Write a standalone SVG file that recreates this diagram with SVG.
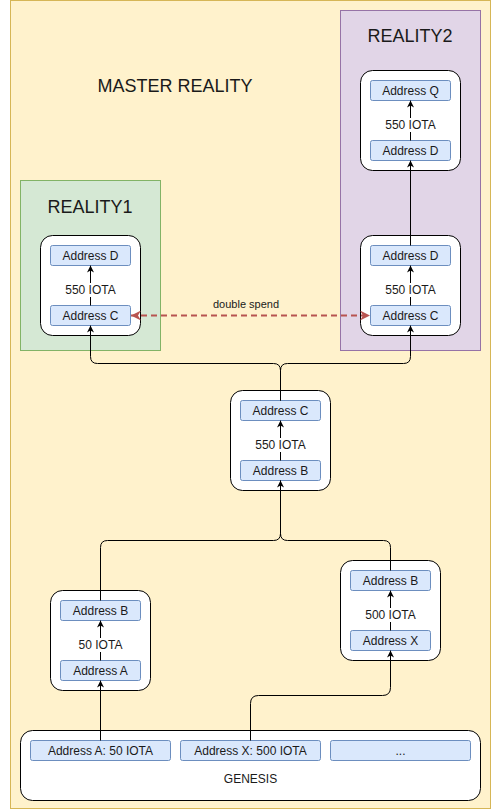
<svg xmlns="http://www.w3.org/2000/svg" width="501" height="811" viewBox="0 0 501 811">
<defs>
<marker id="arr" viewBox="0 0 10 10" refX="10" refY="5" markerWidth="7" markerHeight="8" markerUnits="userSpaceOnUse" orient="auto">
<path d="M0,0 L10,5 L0,10 L3,5 Z" fill="#000"/>
</marker>
<marker id="arrR" viewBox="0 0 10 10" refX="10" refY="5" markerWidth="10" markerHeight="10" markerUnits="userSpaceOnUse" orient="auto-start-reverse">
<path d="M0,0 L10,5 L0,10 L3,5 Z" fill="#b85450"/>
</marker>
<style>
text{font-family:"Liberation Sans",Arial,sans-serif;fill:#1a1a1a;text-anchor:middle;dominant-baseline:central}
.title{font-size:18px}
.lbl{font-size:12px}
.node{fill:#fff;stroke:#000;stroke-width:1}
.addr{fill:#dae8fc;stroke:#6c8ebf;stroke-width:1}
.conn{fill:none;stroke:#000;stroke-width:1}
.tag{fill:#fff}
</style>
</defs>
<g id="master-reality">
<rect x="10.5" y="0.5" width="480" height="808" fill="#fff2cc" stroke="#d6b656"/>
<text class="title" x="175" y="86">MASTER REALITY</text>
</g>
<g id="reality1">
<rect x="20.5" y="180.5" width="140" height="170" fill="#d5e8d4" stroke="#82b366"/>
<text class="title" x="90" y="207">REALITY1</text>
</g>
<g id="reality2">
<rect x="340.5" y="10.5" width="140" height="340" fill="#e1d5e7" stroke="#9673a6"/>
<text class="title" x="410" y="36">REALITY2</text>
</g>
<g id="node-r1">
<rect class="node" x="40.5" y="235.5" width="100" height="100" rx="12"/>
<rect class="addr" x="50.5" y="245.5" width="80" height="20" rx="2"/>
<text class="lbl" x="90.5" y="256">Address D</text>
<rect class="addr" x="50.5" y="305.5" width="80" height="20" rx="2"/>
<text class="lbl" x="90.5" y="316">Address C</text>
</g>
<g id="node-r2a">
<rect class="node" x="360.5" y="70.5" width="100" height="100" rx="12"/>
<rect class="addr" x="370.5" y="80.5" width="80" height="20" rx="2"/>
<text class="lbl" x="410.5" y="91">Address Q</text>
<rect class="addr" x="370.5" y="140.5" width="80" height="20" rx="2"/>
<text class="lbl" x="410.5" y="151">Address D</text>
</g>
<g id="node-r2b">
<rect class="node" x="360.5" y="235.5" width="100" height="100" rx="12"/>
<rect class="addr" x="370.5" y="245.5" width="80" height="20" rx="2"/>
<text class="lbl" x="410.5" y="256">Address D</text>
<rect class="addr" x="370.5" y="305.5" width="80" height="20" rx="2"/>
<text class="lbl" x="410.5" y="316">Address C</text>
</g>
<g id="node-mid">
<rect class="node" x="230.5" y="390.5" width="100" height="100" rx="12"/>
<rect class="addr" x="240.5" y="400.5" width="80" height="20" rx="2"/>
<text class="lbl" x="280.5" y="411">Address C</text>
<rect class="addr" x="240.5" y="460.5" width="80" height="20" rx="2"/>
<text class="lbl" x="280.5" y="471">Address B</text>
</g>
<g id="node-left">
<rect class="node" x="50.5" y="590.5" width="100" height="100" rx="12"/>
<rect class="addr" x="60.5" y="600.5" width="80" height="20" rx="2"/>
<text class="lbl" x="100.5" y="611">Address B</text>
<rect class="addr" x="60.5" y="660.5" width="80" height="20" rx="2"/>
<text class="lbl" x="100.5" y="671">Address A</text>
</g>
<g id="node-right">
<rect class="node" x="340.5" y="560.5" width="100" height="100" rx="12"/>
<rect class="addr" x="350.5" y="570.5" width="80" height="20" rx="2"/>
<text class="lbl" x="390.5" y="581">Address B</text>
<rect class="addr" x="350.5" y="630.5" width="80" height="20" rx="2"/>
<text class="lbl" x="390.5" y="641">Address X</text>
</g>
<g id="genesis">
<rect class="node" x="20.5" y="730.5" width="460" height="70" rx="12"/>
<rect class="addr" x="30.5" y="740.5" width="140" height="20" rx="2"/>
<text class="lbl" x="100.5" y="751">Address A: 50 IOTA</text>
<rect class="addr" x="180.5" y="740.5" width="140" height="20" rx="2"/>
<text class="lbl" x="250.5" y="751">Address X: 500 IOTA</text>
<rect class="addr" x="330.5" y="740.5" width="140" height="20" rx="2"/>
<text class="lbl" x="400.5" y="751">...</text>
<text class="lbl" x="250.5" y="779">GENESIS</text>
</g>
<g id="connectors">
<path class="conn" d="M90.5 305.5 L90.5 265.5" marker-end="url(#arr)"/>
<rect class="tag" x="62" y="283" width="57" height="14"/>
<text class="lbl" x="90.5" y="290">550 IOTA</text>
<path class="conn" d="M410.5 140.5 L410.5 100.5" marker-end="url(#arr)"/>
<rect class="tag" x="382" y="118" width="57" height="14"/>
<text class="lbl" x="410.5" y="125">550 IOTA</text>
<path class="conn" d="M410.5 305.5 L410.5 265.5" marker-end="url(#arr)"/>
<rect class="tag" x="382" y="283" width="57" height="14"/>
<text class="lbl" x="410.5" y="290">550 IOTA</text>
<path class="conn" d="M280.5 460.5 L280.5 420.5" marker-end="url(#arr)"/>
<rect class="tag" x="252" y="438" width="57" height="14"/>
<text class="lbl" x="280.5" y="445">550 IOTA</text>
<path class="conn" d="M100.5 660.5 L100.5 620.5" marker-end="url(#arr)"/>
<rect class="tag" x="77" y="638" width="47" height="14"/>
<text class="lbl" x="100.5" y="645">50 IOTA</text>
<path class="conn" d="M390.5 630.5 L390.5 590.5" marker-end="url(#arr)"/>
<rect class="tag" x="364" y="608" width="53" height="14"/>
<text class="lbl" x="390.5" y="615">500 IOTA</text>
<path class="conn" d="M410.5 245.5 L410.5 160.5" marker-end="url(#arr)"/>
<path class="conn" d="M280.5 400.5 L280.5 370.5 Q280.5 363.5 273.5 363.5 L97.5 363.5 Q90.5 363.5 90.5 356.5 L90.5 325.5" marker-end="url(#arr)"/>
<path class="conn" d="M280.5 400.5 L280.5 370.5 Q280.5 363.5 287.5 363.5 L403.5 363.5 Q410.5 363.5 410.5 356.5 L410.5 325.5" marker-end="url(#arr)"/>
<path class="conn" d="M100.5 600.5 L100.5 547.5 Q100.5 540.5 107.5 540.5 L273.5 540.5 Q280.5 540.5 280.5 533.5 L280.5 480.5" marker-end="url(#arr)"/>
<path class="conn" d="M390.5 570.5 L390.5 547.5 Q390.5 540.5 383.5 540.5 L287.5 540.5 Q280.5 540.5 280.5 533.5 L280.5 480.5"/>
<path class="conn" d="M100.5 740.5 L100.5 680.5" marker-end="url(#arr)"/>
<path class="conn" d="M250.5 740.5 L250.5 703.5 Q250.5 695.5 258.5 695.5 L382.5 695.5 Q390.5 695.5 390.5 687.5 L390.5 650.5" marker-end="url(#arr)"/>
<path d="M131 315.5 L370 315.5" fill="none" stroke="#b85450" stroke-width="2" stroke-dasharray="6 4" marker-start="url(#arrR)" marker-end="url(#arrR)"/>
<text x="246" y="304" style="font-size:11px">double spend</text>
</g>
</svg>
